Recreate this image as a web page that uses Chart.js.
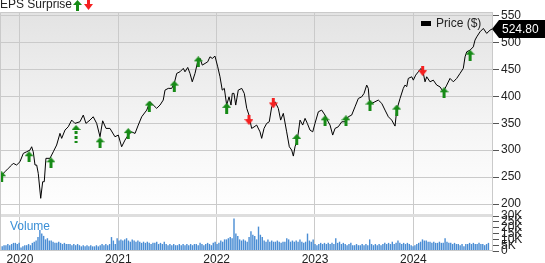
<!DOCTYPE html>
<html><head><meta charset="utf-8">
<script src="https://cdn.jsdelivr.net/npm/chart.js@4.4.1/dist/chart.umd.min.js"></script>
<style>html,body{margin:0;padding:0;background:#fff}canvas{display:block}</style>
</head><body>
<canvas id="c" width="545" height="263"></canvas>
<script>
// ---- data (decimal years) ----
const priceDates = [2019.797,2019.847,2019.881,2019.916,2019.932,2019.966,2020.000,2020.034,2020.068,2020.102,
2020.119,2020.135,2020.153,2020.170,2020.186,2020.211,2020.231,2020.247,2020.264,2020.305,
2020.339,2020.373,2020.407,2020.424,2020.458,2020.491,2020.526,2020.559,2020.610,2020.644,
2020.671,2020.712,2020.745,2020.780,2020.814,2020.841,2020.875,2020.915,2020.966,2021.000,
2021.034,2021.068,2021.101,2021.136,2021.170,2021.203,2021.238,2021.289,2021.322,2021.356,
2021.390,2021.424,2021.457,2021.475,2021.508,2021.543,2021.569,2021.594,2021.627,2021.661,
2021.678,2021.706,2021.729,2021.752,2021.780,2021.807,2021.831,2021.854,2021.882,2021.909,
2021.932,2021.956,2021.983,2022.011,2022.034,2022.057,2022.078,2022.102,2022.126,2022.146,
2022.159,2022.176,2022.194,2022.220,2022.255,2022.281,2022.306,2022.329,2022.339,2022.356,
2022.380,2022.407,2022.441,2022.458,2022.482,2022.509,2022.535,2022.560,2022.593,2022.627,
2022.651,2022.678,2022.712,2022.739,2022.763,2022.780,2022.797,2022.820,2022.848,2022.875,
2022.899,2022.922,2022.949,2022.977,2023.000,2023.034,2023.068,2023.102,2023.125,2023.153,
2023.180,2023.204,2023.237,2023.272,2023.305,2023.339,2023.373,2023.407,2023.441,2023.475,
2023.499,2023.526,2023.542,2023.552,2023.577,2023.610,2023.644,2023.679,2023.712,2023.746,
2023.780,2023.814,2023.831,2023.865,2023.898,2023.915,2023.933,2023.949,2023.984,2024.000,
2024.024,2024.051,2024.078,2024.102,2024.119,2024.136,2024.170,2024.203,2024.238,2024.271,
2024.305,2024.340,2024.373,2024.407,2024.441,2024.475,2024.508,2024.526,2024.543,2024.577,
2024.610,2024.627,2024.645,2024.678,2024.712,2024.746,2024.780,2024.800];
const priceValues = [250.6,259.9,266.2,272.4,275.5,272.4,278.5,294,297,300.2,
306.3,297,272.4,272.4,256.9,210.6,241.4,241.4,284.8,284.8,
297,309.5,331.2,321.9,337.3,343.4,355.8,349.7,352.7,365.1,
349.7,355.8,362,349.7,324.9,354.5,340.4,340.4,324.9,328,
306.3,318.7,328,334,331,346.6,362,374.4,389.8,383.7,
377.6,383.7,393,411.5,414.7,414.7,424,442.5,445.5,451.8,
445.5,453.6,442.5,426.9,442.5,464,470.3,457.9,461,464,
473.3,470.3,474.6,454.7,436.2,411.5,414.7,383.7,399,383.7,
405.4,405.4,383.7,411.5,414.7,405.4,377.6,365.1,355,340.4,
343,346.6,334,321.9,340.4,349.7,352.7,380.5,389.8,377.6,
355.8,368.3,334,306.3,300.2,289,306.3,318.7,355.8,346.6,
359,349.7,337.3,334,349.7,371.2,374.4,365.1,355.8,346.6,
328,340.4,343.4,352.7,352.7,362,365.1,380.5,396,399,
405.4,420.8,414.7,393,386.8,389.8,393,386.8,374.4,362,
355.8,344.7,374.4,396,414.7,420.8,418,433.2,436.2,430,
439.3,445.5,451.8,442.5,426.9,436.2,426.9,430,420.8,417.6,
408.3,420.8,433.2,426.9,433.2,442.5,451.8,473.3,482.6,485.7,
491.8,504.3,510.4,519.7,526,516.7,522.8,524.8];

const epsDates = [2019.814,2020.092,2020.315,2020.570,2020.814,2021.101,2021.315,2021.569,2021.813,2022.102,
2022.329,2022.576,2022.814,2023.102,2023.315,2023.559,2023.831,2024.095,2024.312,2024.577];
const epsPrices = [250.6,287.8,276.6,330,313.7,330.8,381.8,418.9,464,377.6,
355.8,386.8,320,354.5,354.5,383.7,374.4,446.8,406.5,476.4];
const epsKinds = ['beat','beat','beat','beatDashed','beat','beat','beat','beat','beat','beat',
'miss','miss','beat','beat','beat','beat','beat','miss','beat','beat'];

// weekly volume, thousands of shares
const volumeFirstWeek = 2019.80;
const volumeValues = [5,4,5,5,6,5,6,7,7,6,
7,3,4,5,5,6,5,7,8,9,
12,18,15,13,10,11,9,9,8,7,
7,8,7,6,7,6,6,6,5,6,
5,6,5,4,5,4,5,4,5,4,
4,5,4,5,6,5,6,5,6,12,
9,6,11,9,10,9,10,11,9,8,
10,9,8,9,8,7,8,7,8,7,
6,7,7,8,6,7,6,8,6,5,
6,5,6,5,5,6,5,6,5,6,
5,6,5,6,6,5,7,6,5,6,
7,6,5,7,8,6,7,9,8,10,
10,11,12,11,28,15,13,10,9,10,
9,8,12,17,14,13,10,21,14,12,
9,8,10,8,9,8,8,9,8,7,
8,8,11,10,8,9,8,9,8,10,
8,7,8,15,9,8,10,6,5,6,
7,6,7,6,7,6,7,6,11,7,
8,6,7,6,5,6,7,5,5,6,
5,5,6,5,6,5,10,6,5,6,
5,6,5,6,7,6,7,6,8,6,
7,9,7,6,7,6,7,6,5,4,
5,6,7,8,10,9,9,8,8,7,
8,7,7,8,7,7,11,8,7,7,
6,7,6,6,5,6,4,6,6,7,
6,7,6,6,7,6,6,5,6,7];
const volumeDates = volumeValues.map((_, i) => volumeFirstWeek + i * 7 / 365.25);

const yearTicks = [2020, 2021, 2022, 2023, 2024];
const priceTicks = [200, 250, 300, 350, 400, 450, 500, 550];
const volumeTicks = [0, 5, 10, 15, 20, 25, 30];
const lastPrice = 524.80;

// ---- rendering ----
const FONT = '"Liberation Sans", Arial, Helvetica, sans-serif';
Chart.defaults.font.family = FONT;
Chart.defaults.font.size = 12;
Chart.defaults.color = '#222';
const GREEN = '#168a16', RED = '#f52020', GRID = '#cacaca';

function makeArrow(kind) {
  const c = document.createElement('canvas');
  if (kind === 'miss') { c.width = 9; c.height = 10; }
  else if (kind === 'beatDashed') { c.width = 9; c.height = 18; }
  else { c.width = 9; c.height = 11; }
  const g = c.getContext('2d');
  if (kind === 'miss') {
    g.fillStyle = RED;
    g.fillRect(3, 0, 3, 4);
    g.beginPath(); g.moveTo(0, 4); g.lineTo(9, 4); g.lineTo(4.5, 10); g.closePath(); g.fill();
  } else {
    g.fillStyle = GREEN;
    g.beginPath(); g.moveTo(4.5, 0); g.lineTo(9, 5); g.lineTo(0, 5); g.closePath(); g.fill();
    if (kind === 'beatDashed') { g.fillRect(3, 6, 3, 3); g.fillRect(3, 11, 3, 3); g.fillRect(3, 16, 3, 2); }
    else g.fillRect(3, 5, 3, 6);
  }
  return c;
}
const arrowImgs = { beat: makeArrow('beat'), miss: makeArrow('miss'), beatDashed: makeArrow('beatDashed') };

const decor = {
  id: 'decor',
  beforeDraw(chart) {
    const { ctx, chartArea: a } = chart; const ys = chart.scales.y;
    ctx.save();
    ctx.fillStyle = '#fff'; ctx.fillRect(0, 0, chart.width, chart.height);
    const gr = ctx.createLinearGradient(0, ys.top, 0, ys.bottom);
    gr.addColorStop(0, '#e3e3e3'); gr.addColorStop(0.6, '#f6f6f6'); gr.addColorStop(1, '#ffffff');
    ctx.fillStyle = gr; ctx.fillRect(a.left, ys.top, a.right - a.left, ys.bottom - ys.top);
    ctx.restore();
  },
  afterDatasetsDraw(chart) {
    const { ctx, chartArea: a } = chart; const ys = chart.scales.y;
    ctx.save();
    ctx.fillStyle = '#dedede';
    ctx.fillRect(a.left, Math.round(ys.bottom) - 1, a.right - a.left, 3);
    ctx.strokeStyle = GRID; ctx.lineWidth = 1;
    ctx.beginPath();
    ctx.moveTo(a.left + 0.5, a.bottom); ctx.lineTo(a.left + 0.5, a.top + 0.5); ctx.lineTo(a.right, a.top + 0.5);
    ctx.moveTo(a.left, a.bottom - 0.5); ctx.lineTo(a.right, a.bottom - 0.5);
    ctx.stroke();
    ctx.restore();
  },
  afterDraw(chart) {
    const { ctx, chartArea: a } = chart; const ys = chart.scales.y;
    ctx.save();
    ctx.font = '12px ' + FONT; ctx.textBaseline = 'middle'; ctx.textAlign = 'left';
    ctx.fillStyle = '#222';
    ctx.fillText('EPS Surprise', 0, 5);
    ctx.drawImage(arrowImgs.beat, 73, 0);
    ctx.drawImage(arrowImgs.miss, 84, 0);
    // legend
    ctx.fillStyle = '#000'; ctx.fillRect(421, 21, 10, 5);
    ctx.fillStyle = '#222'; ctx.fillText('Price ($)', 436, 24);
    // volume title
    ctx.fillStyle = '#3b8fd6'; ctx.fillText('Volume', 10, 227);
    // last price flag
    const y = Math.round(ys.getPixelForValue(lastPrice));
    const x0 = a.right;
    ctx.fillStyle = '#000';
    ctx.beginPath();
    ctx.moveTo(x0, y); ctx.lineTo(x0 + 7, y - 9); ctx.lineTo(chart.width, y - 9);
    ctx.lineTo(chart.width, y + 9); ctx.lineTo(x0 + 7, y + 9); ctx.closePath(); ctx.fill();
    ctx.fillStyle = '#fff'; ctx.fillText(lastPrice.toFixed(2), x0 + 10, y + 0.5);
    ctx.restore();
  }
};

const tickFont = { family: FONT, size: 12 };
new Chart(document.getElementById('c'), {
  type: 'line',
  data: {
    datasets: [
      {
        type: 'scatter', order: 0, xAxisID: 'x', yAxisID: 'y', clip: false,
        data: epsDates.map((d, i) => ({ x: d, y: epsPrices[i] })),
        pointStyle: ctx => arrowImgs[epsKinds[ctx.dataIndex]], pointRadius: 5
      },
      {
        type: 'line', order: 1, xAxisID: 'x', yAxisID: 'y',
        data: priceDates.map((d, i) => ({ x: d, y: priceValues[i] })),
        borderColor: '#000', borderWidth: 1, pointRadius: 0, tension: 0, fill: false
      },
      {
        type: 'bar', order: 2, xAxisID: 'x', yAxisID: 'yv',
        data: volumeDates.map((d, i) => ({ x: d, y: volumeValues[i] })),
        backgroundColor: '#4a8dd4', borderWidth: 0, barPercentage: 0.75, categoryPercentage: 1, grouped: false
      }
    ]
  },
  options: {
    responsive: false, animation: false, devicePixelRatio: 1, events: [],
    layout: { autoPadding: false, padding: { left: 0, top: 12, right: 0, bottom: 0 } },
    plugins: { legend: { display: false }, tooltip: { enabled: false } },
    scales: {
      x: {
        type: 'linear', position: 'bottom', min: 2019.797, max: 2024.800, offset: false,
        afterBuildTicks: s => { s.ticks = yearTicks.map(v => ({ value: v })); },
        afterFit: s => { s.height = 12; s.paddingLeft = 0; s.paddingRight = 0; },
        grid: { color: GRID, drawTicks: false, offset: false },
        border: { display: false },
        ticks: { padding: 1, font: tickFont, color: '#222', maxRotation: 0, autoSkip: false, callback: v => String(v) }
      },
      y: {
        type: 'linear', position: 'right', stack: 'panes', stackWeight: 5.64, min: 179.6, max: 556.5,
        afterBuildTicks: s => { s.ticks = priceTicks.map(v => ({ value: v })); },
        afterFit: s => { s.width = 53; s.paddingTop = 0; s.paddingBottom = 0; },
        grid: { color: GRID, tickColor: '#555', tickLength: 7 },
        border: { display: true, color: GRID },
        ticks: { padding: 2, font: tickFont, color: '#222', autoSkip: false, callback: v => String(v) }
      },
      yv: {
        type: 'linear', position: 'right', stack: 'panes', stackWeight: 1, min: 0, max: 31,
        afterBuildTicks: s => { s.ticks = volumeTicks.map(v => ({ value: v })); },
        afterFit: s => { s.width = 53; s.paddingTop = 0; s.paddingBottom = 0; },
        grid: { drawOnChartArea: false, tickColor: '#555', tickLength: 7 },
        border: { display: true, color: GRID },
        ticks: { padding: 2, font: tickFont, color: '#222', autoSkip: false, callback: v => v === 0 ? '0' : v + 'K' }
      }
    }
  },
  plugins: [decor]
});
</script>
</body></html>
